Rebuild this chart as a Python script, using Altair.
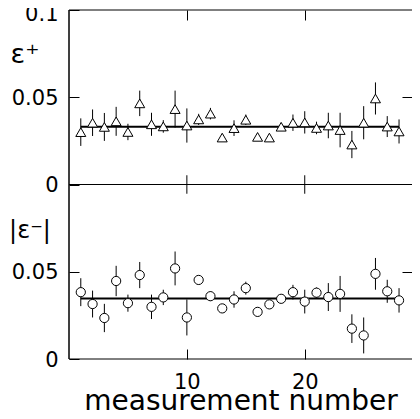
import altair as alt
import pandas as pd

# ---- data ----
measurement = list(range(1, 29))
eps_plus = [0.0300, 0.0354, 0.0330, 0.0362, 0.0301, 0.0465, 0.0345, 0.0333, 0.0432, 0.0338,
            0.0373, 0.0406, 0.0269, 0.0323, 0.0371, 0.0273, 0.0269, 0.0331, 0.0354, 0.0356,
            0.0324, 0.0338, 0.0312, 0.0229, 0.0354, 0.0493, 0.0332, 0.0304]
eps_plus_err = [0.0079, 0.0076, 0.0080, 0.0083, 0.0047, 0.0073, 0.0066, 0.0036, 0.0106, 0.0098,
                0.0032, 0.0033, 0.0020, 0.0045, 0.0030, 0.0020, 0.0020, 0.0022, 0.0047, 0.0064,
                0.0036, 0.0073, 0.0099, 0.0078, 0.0095, 0.0092, 0.0060, 0.0069]
eps_minus = [0.0383, 0.0315, 0.0235, 0.0447, 0.0320, 0.0481, 0.0299, 0.0353, 0.0519, 0.0238,
             0.0453, 0.0360, 0.0290, 0.0341, 0.0406, 0.0270, 0.0313, 0.0345, 0.0383, 0.0329,
             0.0380, 0.0355, 0.0373, 0.0174, 0.0135, 0.0488, 0.0388, 0.0336]
eps_minus_err = [0.0080, 0.0077, 0.0081, 0.0087, 0.0049, 0.0075, 0.0070, 0.0044, 0.0097, 0.0103,
                 0.0025, 0.0028, 0.0020, 0.0047, 0.0037, 0.0025, 0.0025, 0.0020, 0.0042, 0.0068,
                 0.0030, 0.0080, 0.0103, 0.0082, 0.0103, 0.0091, 0.0066, 0.0070]
mean_plus = 0.0331
mean_minus = 0.0346
panels = ["plus", "minus"]
x_tick_values = [10, 20]
y_tick_values = [0.1, 0.05, 0.0, -0.05, -0.1]
frame_y = [0.1, 0.0, -0.1]
x_label = "measurement number"
label_plus = "ε⁺"
label_minus = "|ε⁻|"

FONT = "DejaVu Sans"
TICK = 10

points = pd.DataFrame({
    "n": measurement * 2,
    "v": eps_plus + eps_minus,
    "err": eps_plus_err + eps_minus_err,
    "panel": [panels[0]] * len(measurement) + [panels[1]] * len(measurement),
})
means = pd.DataFrame({
    "panel": panels,
    "v": [mean_plus, mean_minus],
    "n0": [measurement[0]] * 2,
    "n1": [measurement[-1]] * 2,
})
ticks_df = pd.DataFrame({"t": x_tick_values})
frame_df = pd.DataFrame({"fy": frame_y})

# both panels share one y scale; the lower panel is shifted down by 0.1
shift = "datum.panel == 'minus' ? -0.1 : 0"

xs = alt.Scale(domain=[0, 29.1], nice=False, zero=False)
ys = alt.Scale(domain=[-0.1, 0.1], nice=False, zero=False)

axis_common = dict(domain=False, grid=False, tickColor="black", tickWidth=1,
                   offset=-TICK, tickSize=TICK, labelColor="black", labelFont=FONT,
                   labelFontSize=21, titleColor="black")

left_axis = alt.Axis(orient="left", values=y_tick_values, title=None, labelPadding=11,
                     labelOffset={"condition": {"test": "datum.value > 0.09", "value": 4}, "value": 1},
                     labelExpr="format(datum.value < 0 ? datum.value + 0.1 : datum.value, '.2~f')",
                     **axis_common)
right_axis = alt.Axis(orient="right", values=[0.05, -0.05], labels=False, title=None, **axis_common)
bottom_axis = alt.Axis(orient="bottom", values=x_tick_values, format="d", labelPadding=12,
                       title=x_label, titleFont=FONT, titleFontSize=28, titleFontWeight="normal",
                       titleBaseline="alphabetic", titleY=60, labelFlush=False, **axis_common)
top_axis = alt.Axis(orient="top", values=x_tick_values, labels=False, title=None, **axis_common)

base = alt.Chart(points).transform_calculate(
    y=f"datum.v + ({shift})",
    lo=f"datum.v - datum.err + ({shift})",
    hi=f"datum.v + datum.err + ({shift})",
)

frame_h = alt.Chart(frame_df).mark_rule(color="black", strokeWidth=1).encode(
    y=alt.Y("fy:Q", scale=ys, axis=None),
)
frame_left = alt.Chart(ticks_df).mark_rule(color="black", strokeWidth=1).encode(
    x=alt.datum(0, scale=xs, axis=None),
)

middle_ticks = alt.Chart(ticks_df).mark_rule(color="black", strokeWidth=1).encode(
    x=alt.X("t:Q", scale=xs, axis=None),
    y=alt.datum(-0.0053, scale=ys, axis=None),
    y2=alt.datum(0.0053),
)

errbars = base.mark_rule(color="black", strokeWidth=1).encode(
    x=alt.X("n:Q", scale=xs, axis=bottom_axis),
    y=alt.Y("lo:Q", scale=ys, axis=left_axis),
    y2="hi:Q",
)

mean_lines = alt.Chart(means).transform_calculate(
    y=f"datum.v + ({shift})"
).mark_rule(color="black", strokeWidth=2).encode(
    x=alt.X("n0:Q", scale=xs, axis=top_axis),
    x2="n1:Q",
    y=alt.Y("y:Q", scale=ys, axis=right_axis),
)

triangles = base.transform_filter("datum.panel == 'plus'").mark_point(
    shape="triangle-up", filled=True, fill="white", stroke="black", strokeWidth=1,
    size=100, opacity=1,
).encode(
    x=alt.X("n:Q", scale=xs, axis=None),
    y=alt.Y("y:Q", scale=ys, axis=None),
)

circles = base.transform_filter("datum.panel == 'minus'").mark_point(
    shape="circle", filled=True, fill="white", stroke="black", strokeWidth=1,
    size=85, opacity=1,
).encode(
    x=alt.X("n:Q", scale=xs, axis=None),
    y=alt.Y("y:Q", scale=ys, axis=None),
)

lab_plus = alt.Chart(alt.Data(values=[{}])).mark_text(
    text=label_plus, font=FONT, fontSize=27, color="black", align="center", baseline="alphabetic"
).encode(x=alt.value(-44), y=alt.datum(0.0696, scale=ys, axis=None))

lab_minus = alt.Chart(alt.Data(values=[{}])).mark_text(
    text=label_minus, font=FONT, fontSize=24, color="black", align="center", baseline="alphabetic"
).encode(x=alt.value(-39), y=alt.datum(-0.0307, scale=ys, axis=None))

chart = alt.layer(
    frame_h, frame_left, middle_ticks, errbars, mean_lines, triangles, circles, lab_plus, lab_minus
).resolve_axis(x="independent", y="independent").properties(
    width=343, height=349,
    autosize=alt.AutoSizeParams(type="none"),
    padding={"left": 61, "top": 2, "right": 0, "bottom": 52},
    background="white",
).configure_view(stroke=None)

chart.save("out.html", embed_options={"renderer": "svg", "actions": False})
